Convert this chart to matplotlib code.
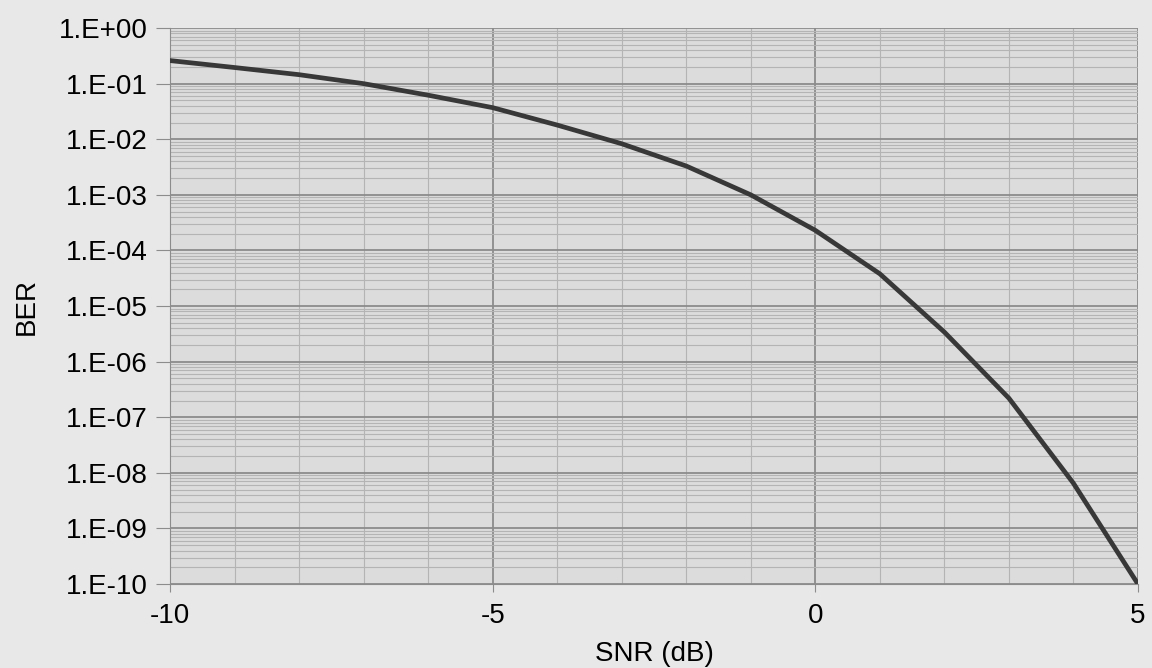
import numpy as np
import matplotlib.pyplot as plt
from matplotlib.ticker import LogLocator, FixedLocator, NullFormatter, FuncFormatter

# values
snr_db = [-10, -9, -8, -7, -6, -5, -4, -3, -2, -1, 0, 1, 2, 3, 4, 5]
ber = [0.26, 0.195, 0.145, 0.10, 0.062, 0.037, 0.018, 0.0083, 0.0033,
       1.0e-3, 2.3e-4, 3.8e-5, 3.4e-6, 2.2e-7, 6.5e-9, 1e-10]

x_ticks = [-10, -5, 0, 5]
y_decades = [10.0 ** -k for k in range(0, 11)]

plt.rcParams['font.family'] = ['Liberation Sans', 'DejaVu Sans']
plt.rcParams['axes.unicode_minus'] = False

fig = plt.figure(figsize=(11.52, 6.68), dpi=100, facecolor='#e8e8e8')
ax = fig.add_axes([0.1476, 0.1257, 0.8402, 0.8323])
ax.set_facecolor('#dcdcdc')

ax.plot(snr_db, ber, color='#383838', lw=3.4, solid_joinstyle='round', zorder=5)

ax.set_yscale('log')
ax.set_xlim(-10, 5)
ax.set_ylim(1e-10, 1)

ax.xaxis.set_major_locator(FixedLocator(x_ticks))
ax.xaxis.set_minor_locator(FixedLocator(np.arange(-10, 6, 1)))
ax.yaxis.set_major_locator(FixedLocator(y_decades))
ax.yaxis.set_minor_locator(LogLocator(base=10, subs=np.arange(2, 10), numticks=100))
ax.yaxis.set_minor_formatter(NullFormatter())

def sci_fmt(v, pos):
    e = int(round(np.log10(v)))
    return "1.E+00" if e == 0 else "1.E-%02d" % (-e)

ax.yaxis.set_major_formatter(FuncFormatter(sci_fmt))

ax.grid(which='major', color='#8c8c8c', lw=1.3)
ax.grid(which='minor', color='#b4b4b4', lw=0.8)
ax.set_axisbelow(True)

for s in ax.spines.values():
    s.set_visible(False)
ax.spines['left'].set_visible(True)
ax.spines['left'].set_color('#8c8c8c')
ax.spines['bottom'].set_visible(True)
ax.spines['bottom'].set_color('#8c8c8c')

ax.tick_params(axis='y', which='major', length=10, color='#8c8c8c', labelsize=20, pad=6)
ax.tick_params(axis='y', which='minor', length=0)
ax.tick_params(axis='x', which='major', length=6, color='#8c8c8c', labelsize=20, pad=8)
ax.tick_params(axis='x', which='minor', length=0)

ax.set_xlabel('SNR (dB)', fontsize=20, labelpad=8)
ax.set_ylabel('BER', fontsize=20, labelpad=14)

fig.savefig('out.png', dpi=100, facecolor=fig.get_facecolor())
